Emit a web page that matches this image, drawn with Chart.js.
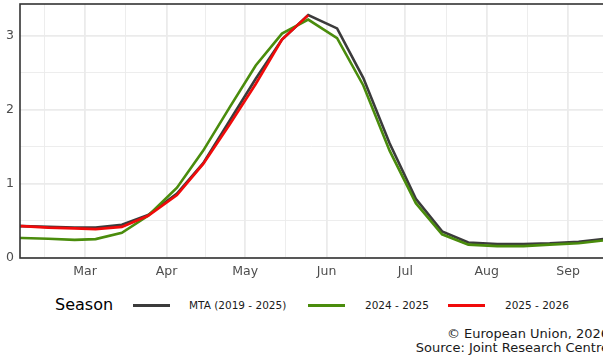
<!DOCTYPE html>
<html>
<head>
<meta charset="utf-8">
<script src="https://cdn.jsdelivr.net/npm/chart.js@4"></script>
<style>
  body { margin: 0; background: #fff; font-family: "DejaVu Sans", sans-serif; overflow: hidden; }
  #wrap { position: relative; width: 603px; height: 358px; overflow: hidden; }
  #plot { position: absolute; left: 0; top: 0; }
  .legend { position: absolute; left: 0; top: 296px; height: 18px; width: 603px; }
  .legend .title { position: absolute; left: 55px; top: 0; font-size: 16px; line-height: 18px; color: #000; }
  .legend .key { position: absolute; top: 8px; width: 37px; height: 3px; }
  .legend .lbl { position: absolute; top: 2px; font-size: 10.5px; line-height: 14px; color: #1a1a1a; white-space: nowrap; }
  .credit { position: absolute; right: -6px; top: 327px; text-align: right; font-size: 13px; line-height: 14px; color: #1a1a1a; white-space: nowrap; }
</style>
</head>
<body>
<div id="wrap">
  <canvas id="plot" width="603" height="290"></canvas>
  <div class="legend" id="legend"></div>
  <div class="credit">© European Union, 2026<br>Source: Joint Research Centre</div>
</div>
<script>
// dekad mid-points, day of year (Jan 1 = 0)
const days = [24, 35, 45, 55, 63, 73, 83, 94, 104, 114, 124, 134, 144, 155, 165, 175, 185, 195, 205, 216, 226, 236, 247, 257];

const mta     = [0.43, 0.43, 0.42, 0.41, 0.41, 0.45, 0.58, 0.87, 1.28, 1.85, 2.42, 2.95, 3.28, 3.10, 2.43, 1.55, 0.80, 0.36, 0.21, 0.19, 0.19, 0.20, 0.22, 0.26];
const s2425   = [0.28, 0.27, 0.26, 0.245, 0.255, 0.34, 0.57, 0.95, 1.45, 2.03, 2.60, 3.03, 3.22, 2.97, 2.33, 1.45, 0.74, 0.32, 0.18, 0.16, 0.16, 0.18, 0.20, 0.24];
const s2526   = [0.44, 0.43, 0.41, 0.40, 0.39, 0.42, 0.57, 0.85, 1.27, 1.80, 2.35, 2.95, 3.28];

const seasons = ['MTA (2019 - 2025)', '2024 - 2025', '2025 - 2026'];
const colors  = ['#3b3b3b', '#4a8c0c', '#f00a0a'];

// month starts (major) and mid-month breaks (minor)
const monthDays   = [59, 90, 120, 151, 181, 212, 243];
const monthLabels = ['Mar', 'Apr', 'May', 'Jun', 'Jul', 'Aug', 'Sep'];
const minorDays   = [43.5, 74.5, 105, 135.5, 166, 196.5, 227.5];

const yMajor = [0, 1, 2, 3];
const yMinor = [0.5, 1.5, 2.5];

function toPoints(vals) {
  return vals.map((v, i) => ({ x: days[i], y: v }));
}

const panelBorder = {
  id: 'panelBorder',
  afterDraw(chart) {
    const a = chart.chartArea;
    const ctx = chart.ctx;
    ctx.save();
    ctx.strokeStyle = '#333333';
    ctx.lineWidth = 1.6;
    ctx.strokeRect(a.left, a.top, a.right - a.left + 10, a.bottom - a.top);
    ctx.restore();
  }
};

const series = [mta, s2425, s2526];

new Chart(document.getElementById('plot').getContext('2d'), {
  type: 'line',
  data: {
    datasets: series.map((vals, i) => ({
      label: seasons[i],
      data: toPoints(vals),
      borderColor: colors[i],
      backgroundColor: colors[i],
      borderWidth: 2.6,
      pointRadius: 0,
      tension: 0,
      clip: 0,
      order: 3 - i
    }))
  },
  options: {
    responsive: false,
    devicePixelRatio: 1,
    animation: false,
    layout: { padding: { top: 4, right: 0, left: 0, bottom: 0 } },
    plugins: { legend: { display: false }, tooltip: { enabled: false } },
    scales: {
      x: {
        type: 'linear',
        min: 34.2,
        max: 256.3,
        afterBuildTicks: s => {
          s.ticks = monthDays.concat(minorDays).sort((a, b) => a - b).map(v => ({ value: v }));
        },
        afterFit: s => { s.height = 32; s.paddingLeft = 0; s.paddingRight = 0; },
        border: { display: false },
        grid: {
          drawTicks: false,
          color: '#ebebeb',
          lineWidth: c => monthDays.includes(c.tick.value) ? 1.8 : 0.9
        },
        ticks: {
          autoSkip: false,
          maxRotation: 0,
          padding: 6,
          color: '#4d4d4d',
          font: { family: 'DejaVu Sans', size: 12.5 },
          callback: v => {
            const k = monthDays.indexOf(v);
            return k >= 0 ? monthLabels[k] : '';
          }
        }
      },
      y: {
        min: 0,
        max: 3.43,
        afterBuildTicks: s => {
          s.ticks = yMajor.concat(yMinor).sort((a, b) => a - b).map(v => ({ value: v }));
        },
        afterFit: s => { s.width = 20; s.paddingTop = 0; s.paddingBottom = 0; },
        border: { display: false },
        grid: {
          drawTicks: false,
          color: '#ebebeb',
          lineWidth: c => yMajor.includes(c.tick.value) ? 1.8 : 0.9
        },
        ticks: {
          padding: 6,
          color: '#4d4d4d',
          font: { family: 'DejaVu Sans', size: 12.5 },
          callback: v => yMajor.includes(v) ? String(v) : ''
        }
      }
    }
  },
  plugins: [panelBorder]
});

// legend row
const keyX = [133, 308, 448];
const lblX = [189, 365, 505];
const legend = document.getElementById('legend');
legend.innerHTML = '<span class="title">Season</span>' + seasons.map((s, i) =>
  '<span class="key" style="left:' + keyX[i] + 'px;background:' + colors[i] + '"></span>' +
  '<span class="lbl" style="left:' + lblX[i] + 'px">' + s + '</span>'
).join('');
</script>
</body>
</html>
